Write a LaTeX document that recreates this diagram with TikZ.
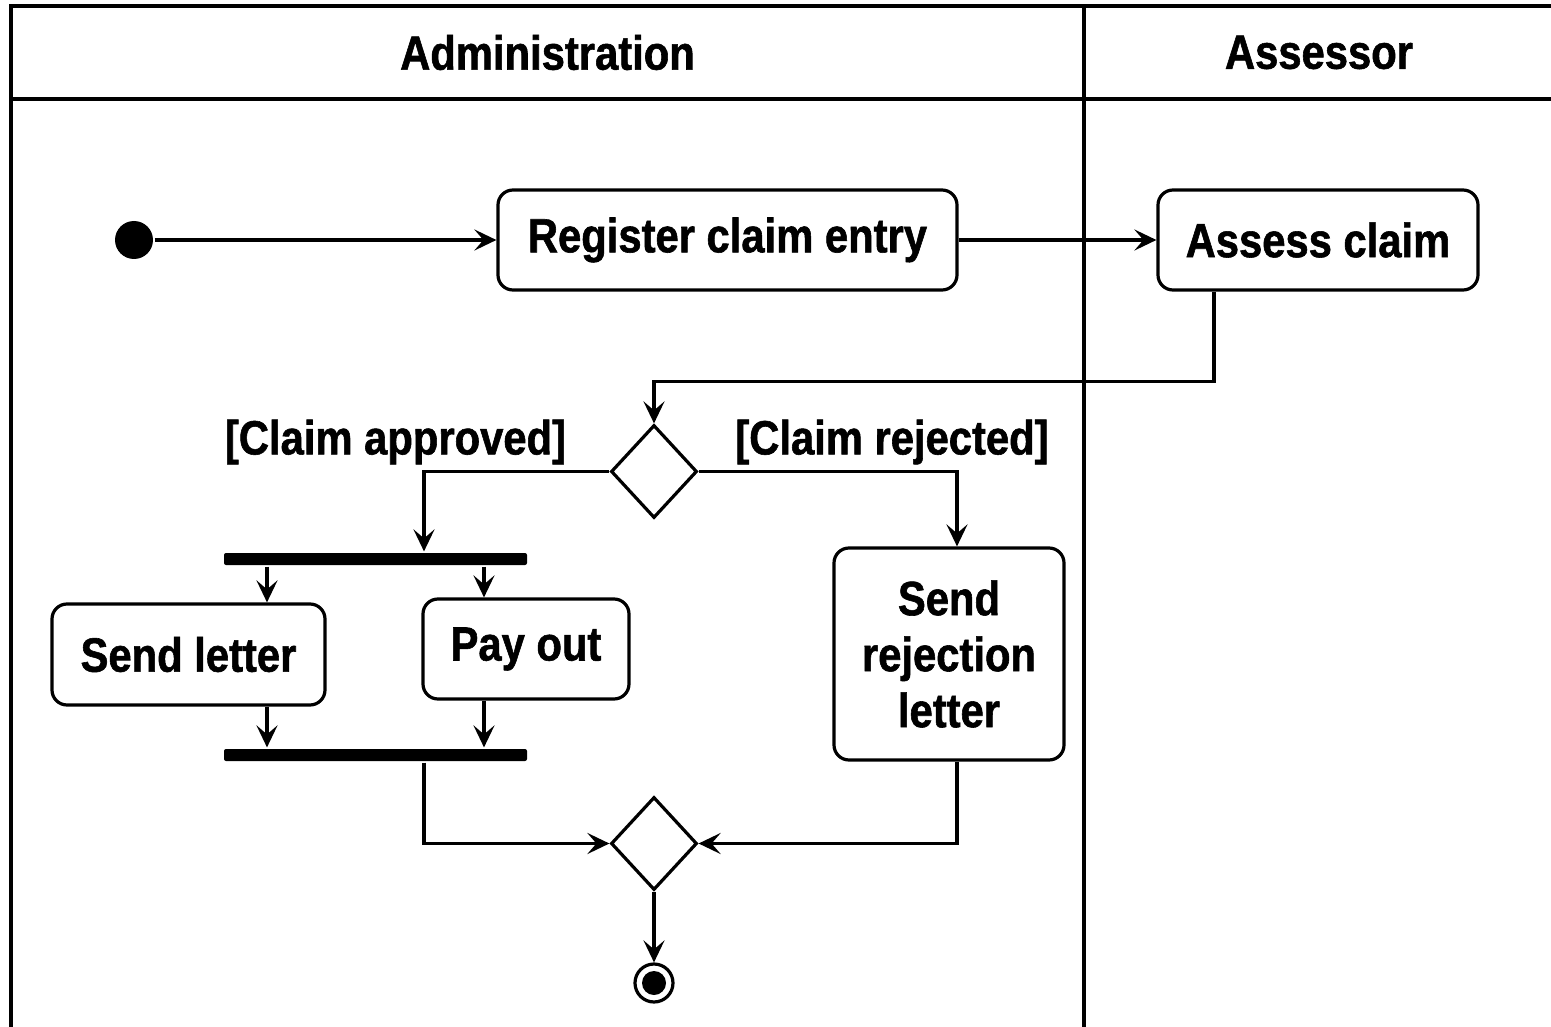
\documentclass[tikz,border=0pt]{standalone}
\usepackage{fontspec}
\setmainfont{Liberation Sans}[FakeStretch=0.87,BoldFeatures={FakeBold=1.2}]
\usetikzlibrary{shapes.geometric,arrows.meta}
\begin{document}
\begin{tikzpicture}[x=1pt,y=-1pt,line width=3.2pt,
  >={Stealth[length=22pt,width=21pt,inset=9pt]},
  font=\fontsize{48}{56}\selectfont\bfseries,
  act/.style={draw,rounded corners=15pt,align=center,inner sep=0pt},
  bar/.style={fill,rounded corners=2pt,minimum width=303pt,minimum height=12pt,inner sep=0pt},
  choice/.style={draw,diamond,minimum width=86pt,minimum height=93pt,inner sep=0pt}]
\useasboundingbox (0,0) rectangle (1551,1027);
% lanes
\draw (11,1027)--(11,6)--(1551,6);
\draw (11,99)--(1551,99);
\draw (1084,6)--(1084,1027);
\node (admin) at (547.5,52.5) {Administration};
\node (assessor) at (1319,52.5) {Assessor};
% activities
\node[circle,fill,minimum size=38pt,inner sep=0pt] (start) at (134,240) {};
\node[act,minimum width=459pt,minimum height=100pt] (reg) at (727.5,240) {Register claim entry};
\node[act,minimum width=320pt,minimum height=100pt] (assess) at (1318,240) {Assess claim};
\node[choice] (dec) at (654,471.5) {};
\node (approved) at (395.5,442) {[Claim approved]};
\node (rejected) at (892,442) {[Claim rejected]};
\node[bar] (fork) at (375.5,559) {};
\node[act,minimum width=273pt,minimum height=101pt] (letter) at (188.5,654.5) {Send letter};
\node[act,minimum width=206pt,minimum height=100pt] (pay) at (526,649) {Pay out};
\node[act,minimum width=230pt,minimum height=212pt] (rej) at (949,654) {Send\\rejection\\letter};
\node[bar] (join) at (375.5,755) {};
\node[choice] (merge) at (654,843.5) {};
\node[circle,draw,minimum size=38pt,inner sep=0pt] (end) at (654,983) {};
\fill (end.center) circle (12pt);
% flows
\draw[->] (start) -- (reg);
\draw[->] (reg) -- (assess);
\draw[->] ([xshift=-104pt]assess.south) -- ++(0,90) -| (dec.north);
\draw[->] (dec.west) -| ([xshift=48.5pt]fork.north);
\draw[->] (dec.east) -| ([xshift=8pt]rej.north);
\coordinate (f1) at ([xshift=-108.5pt]fork.south);
\coordinate (f2) at ([xshift=108.5pt]fork.south);
\coordinate (j1) at ([xshift=-108.5pt]join.north);
\coordinate (j2) at ([xshift=108.5pt]join.north);
\draw[->] (f1) -- (f1 |- letter.north);
\draw[->] (f2) -- (f2 |- pay.north);
\draw[->] (j1 |- letter.south) -- (j1);
\draw[->] (j2 |- pay.south) -- (j2);
\draw[->] ([xshift=48.5pt]join.south) |- (merge.west);
\draw[->] ([xshift=8pt]rej.south) |- (merge.east);
\draw[->] (merge.south) -- (end.north);
\end{tikzpicture}
\end{document}
